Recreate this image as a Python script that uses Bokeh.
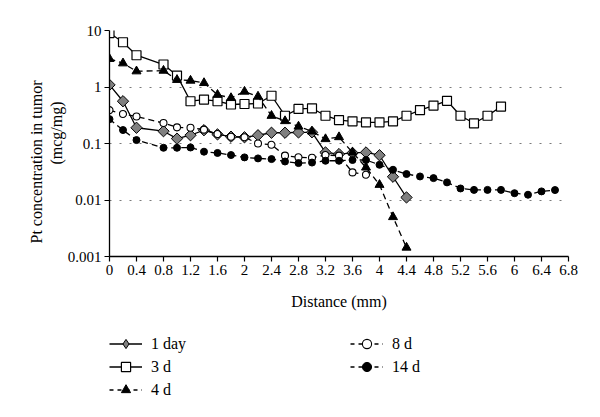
import math
from bokeh.plotting import figure
from bokeh.layouts import column
from bokeh.models import (Legend, LegendItem, Title, FixedTicker, CustomJSTickFormatter,
                          Range1d, ColumnDataSource)
from bokeh.embed import file_html
from bokeh.resources import INLINE

# ---- data ----
x_ticks = [0, 0.4, 0.8, 1.2, 1.6, 2, 2.4, 2.8, 3.2, 3.6, 4, 4.4, 4.8, 5.2, 5.6, 6, 6.4, 6.8]
y_ticks = [0.001, 0.01, 0.1, 1, 10]

dist_1d = [0, 0.2, 0.4, 0.8, 1.0, 1.2, 1.4, 1.6, 1.8, 2.0, 2.2, 2.4, 2.6, 2.8, 3.0,
           3.2, 3.4, 3.6, 3.8, 4.0, 4.2, 4.4]
conc_1d = [1.09, 0.56, 0.19, 0.165, 0.122, 0.14, 0.172, 0.145, 0.132, 0.129, 0.14,
           0.155, 0.155, 0.157, 0.158, 0.0695, 0.065, 0.068, 0.0695, 0.062, 0.0258, 0.0111]

dist_3d = [0, 0.2, 0.4, 0.8, 1.0, 1.2, 1.4, 1.6, 1.8, 2.0, 2.2, 2.4, 2.6, 2.8, 3.0,
           3.2, 3.4, 3.6, 3.8, 4.0, 4.2, 4.4, 4.6, 4.8, 5.0, 5.2, 5.4, 5.6, 5.8]
conc_3d = [9.0, 6.2, 3.65, 2.5, 1.59, 0.56, 0.60, 0.56, 0.49, 0.50, 0.51, 0.70, 0.31,
           0.41, 0.42, 0.31, 0.26, 0.247, 0.237, 0.237, 0.247, 0.31, 0.39, 0.47, 0.57,
           0.31, 0.228, 0.31, 0.45]

dist_4d = [0, 0.2, 0.4, 0.8, 1.0, 1.2, 1.4, 1.6, 1.8, 2.0, 2.2, 2.4, 2.6, 2.8, 3.0,
           3.2, 3.4, 3.6, 3.8, 4.0, 4.2, 4.4]
conc_4d = [3.15, 2.63, 1.9, 1.95, 1.34, 1.30, 1.18, 0.73, 0.64, 0.83, 0.68, 0.31, 0.25,
           0.20, 0.164, 0.12, 0.13, 0.0695, 0.0377, 0.0186, 0.0050, 0.00144]

dist_8d = [0, 0.2, 0.4, 0.8, 1.0, 1.2, 1.4, 1.6, 1.8, 2.0, 2.2, 2.4, 2.6, 2.8, 3.0,
           3.2, 3.4, 3.6, 3.8]
conc_8d = [0.39, 0.333, 0.30, 0.23, 0.193, 0.19, 0.176, 0.147, 0.132, 0.129, 0.10,
           0.095, 0.061, 0.057, 0.056, 0.0625, 0.061, 0.0308, 0.028]

dist_14d = [0, 0.2, 0.4, 0.8, 1.0, 1.2, 1.4, 1.6, 1.8, 2.0, 2.2, 2.4, 2.6, 2.8, 3.0,
            3.2, 3.4, 3.6, 3.8, 4.0, 4.2, 4.4, 4.6, 4.8, 5.0, 5.2, 5.4, 5.6, 5.8, 6.0,
            6.2, 6.4, 6.6]
conc_14d = [0.27, 0.173, 0.115, 0.084, 0.084, 0.085, 0.0716, 0.068, 0.0625, 0.0568,
            0.0545, 0.053, 0.048, 0.045, 0.046, 0.0495, 0.0495, 0.051, 0.051, 0.042,
            0.0343, 0.0288, 0.0261, 0.0244, 0.0205, 0.016, 0.0151, 0.0151, 0.0151,
            0.0132, 0.0124, 0.0142, 0.015]

series_names = ["1 day", "3 d", "4 d", "8 d", "14 d"]

FONT = "Liberation Serif"

p = figure(width=584, height=318, output_backend="svg", toolbar_location=None,
           y_axis_type="log", x_range=Range1d(0, 6.8), y_range=Range1d(0.001, 10),
           frame_width=459, frame_height=226,
           min_border_left=109, min_border_right=16, min_border_top=30, min_border_bottom=62)
p.outline_line_color = None
p.background_fill_color = "white"
p.border_fill_color = "white"

# axes
for ax in (p.xaxis[0], p.yaxis[0]):
    ax.axis_line_color = "black"
    ax.axis_line_width = 1.3
    ax.major_tick_line_color = "black"
    ax.major_tick_line_width = 1.2
    ax.major_tick_in = 0
    ax.major_tick_out = 5
    ax.minor_tick_line_color = None
    ax.major_label_text_font = FONT
    ax.major_label_text_font_size = "15px"
    ax.major_label_text_color = "black"

p.xaxis.ticker = FixedTicker(ticks=x_ticks)
p.yaxis.ticker = FixedTicker(ticks=y_ticks)
p.xaxis.formatter = CustomJSTickFormatter(code="return tick.toString();")
p.yaxis.formatter = CustomJSTickFormatter(code="return tick.toString();")
p.xaxis.major_label_standoff = 3
p.yaxis.major_label_standoff = 3

p.xaxis.axis_label = "Distance (mm)"
p.xaxis.axis_label_text_font = FONT
p.xaxis.axis_label_text_font_size = "16px"
p.xaxis.axis_label_text_font_style = "normal"
p.xaxis.axis_label_text_color = "black"
p.xaxis.axis_label_standoff = 15

p.xgrid.grid_line_color = None
p.ygrid.grid_line_color = "#7a7a7a"
p.ygrid.grid_line_dash = "2 8"
p.ygrid.grid_line_width = 1.2

# y-axis title (two lines) as side titles, anchored from the frame bottom
t_units = Title(text="(mcg/mg)", align="left", offset=92, standoff=0,
                text_font=FONT, text_font_size="16px", text_font_style="normal",
                text_color="black")
t_main = Title(text="Pt concentration in tumor", align="left", offset=13, standoff=2,
               text_font=FONT, text_font_size="16px", text_font_style="normal",
               text_color="black")
p.add_layout(t_units, "left")
p.add_layout(t_main, "left")

src_1d = ColumnDataSource(dict(x=dist_1d, y=conc_1d))
src_3d = ColumnDataSource(dict(x=dist_3d, y=conc_3d))
src_4d = ColumnDataSource(dict(x=dist_4d, y=conc_4d))
src_8d = ColumnDataSource(dict(x=dist_8d, y=conc_8d))
src_14d = ColumnDataSource(dict(x=dist_14d, y=conc_14d))

LW = 1.3
styles = [
    (src_1d, None, dict(marker="square", angle=math.pi / 4, size=8, fill_color="#808080",
                        line_color="black", line_width=1)),
    (src_3d, None, dict(marker="square", size=9, fill_color="white",
                        line_color="black", line_width=1.2)),
    (src_4d, "6 4", dict(marker="triangle", size=9, fill_color="black",
                         line_color="black", line_width=1)),
    (src_8d, "6 4", dict(marker="circle", size=7, fill_color="white",
                         line_color="black", line_width=1.1)),
    (src_14d, "6 4", dict(marker="circle", size=7, fill_color="black",
                          line_color="black", line_width=1)),
]


def draw(fig, visible=True, legend_version=False):
    out = []
    for i, (src, dash, mk) in enumerate(styles):
        lkw = dict(line_color="black", line_width=LW)
        if dash:
            lkw["line_dash"] = "4 4" if legend_version else dash
        mk = dict(mk)
        if legend_version and i == 0:
            # legend glyphs ignore angle: use a diamond marker there
            mk.pop("angle")
            mk["marker"] = "diamond"
        ln = fig.line("x", "y", source=src, visible=visible, **lkw)
        sc = fig.scatter("x", "y", source=src, visible=visible, **mk)
        out.append((ln, sc))
    return out


draw(p)

# ---- legend strip (second figure, legend only) ----
lg = figure(width=584, height=90, output_backend="svg", toolbar_location=None,
            x_range=Range1d(0, 1), y_range=Range1d(0, 1),
            min_border_left=0, min_border_right=0, min_border_top=0, min_border_bottom=0)
lg.axis.visible = False
lg.grid.visible = False
lg.outline_line_color = None
lg.background_fill_color = "white"
lg.border_fill_color = "white"
lg_rend = draw(lg, visible=False, legend_version=True)

legend = Legend(items=[LegendItem(label=name, renderers=list(r))
                       for name, r in zip(series_names, lg_rend)],
                location=(0, 7), ncols=2, orientation="vertical")
legend.border_line_color = None
legend.background_fill_alpha = 0
legend.inactive_fill_alpha = 0
legend.padding = 0
legend.margin = 0
legend.spacing = 0
legend.glyph_width = 33
legend.glyph_height = 23
legend.label_height = 23
legend.label_standoff = 9
legend.label_width = 199
legend.label_text_font = FONT
legend.label_text_font_size = "16px"
legend.label_text_color = "black"
lg.add_layout(legend, "center")

layout = column(p, lg, spacing=0)
open("out.html", "w").write(file_html(layout, INLINE))
